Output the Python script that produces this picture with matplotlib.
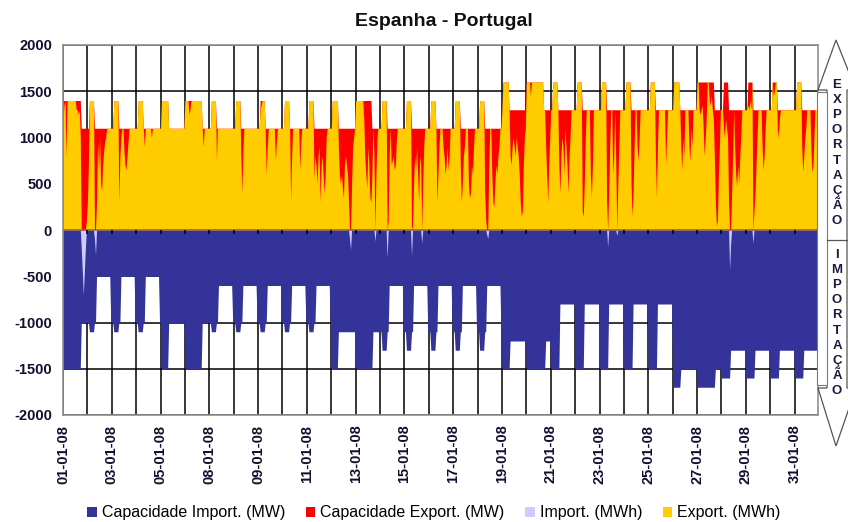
import numpy as np
import matplotlib
matplotlib.use("Agg")
import matplotlib.pyplot as plt
from matplotlib.patches import Polygon, Rectangle, Patch

plt.rcParams['font.family'] = ['Liberation Sans', 'DejaVu Sans']

# ---------------- data (January 2008, hourly, read per day) ----------------
days = list(range(1, 32))
tick_days = [1, 3, 5, 7, 9, 11, 13, 15, 17, 19, 21, 23, 25, 27, 29, 31]
tick_labels = ["01-01-08", "03-01-08", "05-01-08", "08-01-08", "09-01-08", "11-01-08",
               "13-01-08", "15-01-08", "17-01-08", "19-01-08", "21-01-08", "23-01-08",
               "25-01-08", "27-01-08", "29-01-08", "31-01-08"]

# export capacity (MW): off-peak value and normal value per day
exp_cap_high = [1400, 1400, 1400, 1400, 1400, 1400, 1400, 1400, 1400, 1400, 1400, 1400, 1400, 1400, 1400, 1400,
                1400, 1400, 1600, 1600, 1600, 1600, 1600, 1600, 1600, 1600, 1600, 1600, 1600, 1600, 1600]
exp_cap_low = [1100, 1100, 1100, 1100, 1100, 1100, 1100, 1100, 1100, 1100, 1100, 1100, 1100, 1100, 1100, 1100,
               1100, 1100, 1300, 1300, 1300, 1300, 1300, 1300, 1300, 1300, 1300, 1300, 1300, 1300, 1300]
offpeak_start = [0, 2, 2, 2, 1, 0, 2, 2, 2, 2, 2, 1, 0, 2, 2, 2, 2, 2, 1, 0, 2, 2, 2, 2, 2, 1, 0, 2, 2, 2, 2]
offpeak_end = [18, 7, 7, 7, 8, 17, 7, 7, 7, 7, 7, 7, 16, 7, 7, 7, 7, 7, 7, 17, 7, 7, 7, 7, 7, 7, 17, 7, 7, 7, 7]

# import capacity (MW, negative): off-peak, shoulder and peak value per day
imp_cap_offpeak = [-1500, -1100, -1100, -1100, -1500, -1500, -1100, -1100, -1100, -1100, -1100, -1500, -1500,
                   -1300, -1300, -1300, -1300, -1300, -1500, -1500, -1500, -1500, -1500, -1500, -1500, -1700,
                   -1700, -1600, -1600, -1600, -1600]
imp_cap_shoulder = [-1000, -1000, -1000, -1000, -1000, -1000, -1000, -1000, -1000, -1000, -1000, -1500, -1500,
                    -1100, -1100, -1100, -1100, -1100, -1500, -1500, -1500, -1500, -1500, -1500, -1500, -1700,
                    -1700, -1600, -1600, -1600, -1600]
imp_cap_peak = [-1000, -500, -500, -500, -1000, -1000, -600, -600, -600, -600, -600, -1100, -1100,
                -600, -600, -600, -600, -600, -1200, -1200, -800, -800, -800, -800, -800, -1500,
                -1500, -1300, -1300, -1300, -1300]
peak_start = [18, 9, 9, 9, 8, 18, 9, 9, 9, 9, 9, 7, 17, 9, 9, 9, 9, 9, 8, 19, 9, 9, 9, 9, 9, 8, 18, 9, 9, 9, 9]
peak_end = [24, 23, 23, 23, 24, 24, 23, 23, 23, 23, 23, 24, 24, 23, 23, 23, 23, 23, 24, 24, 24, 24, 24, 24,
            24, 24, 24, 24, 24, 24, 24]

# hours where actual export (MWh) was below capacity: (day, hour, MWh)
export_below_cap = [
    (1, 0, 1200), (1, 1, 1350), (1, 3, 800), (1, 13, 1300), (1, 14, 1300), (1, 15, 1250), (1, 16, 1300),
    (1, 17, 1000), (1, 18, 0), (1, 19, 0), (1, 20, 0), (1, 21, 0), (1, 22, 0), (1, 23, 100),
    (2, 0, 300), (2, 1, 700), (2, 7, 0), (2, 8, 0), (2, 9, 300), (2, 10, 950), (2, 11, 650), (2, 12, 1000),
    (2, 13, 500), (2, 14, 420), (2, 15, 700), (2, 16, 850), (2, 17, 950), (2, 18, 1000),
    (3, 7, 300), (3, 8, 800), (3, 9, 1000), (3, 12, 850), (3, 13, 700), (3, 14, 650), (3, 15, 800), (3, 16, 950),
    (4, 8, 900), (4, 15, 1000),
    (6, 4, 1250), (6, 5, 1300), (6, 18, 900),
    (7, 7, 750),
    (8, 7, 800), (8, 8, 400), (8, 9, 850),
    (9, 2, 1300), (9, 3, 1350), (9, 8, 600), (9, 9, 900), (9, 17, 750), (9, 18, 950),
    (10, 8, 320), (10, 9, 800), (10, 17, 650), (10, 18, 950),
    (11, 7, 550), (11, 8, 800), (11, 9, 700), (11, 10, 500), (11, 11, 800), (11, 12, 900), (11, 13, 300),
    (11, 14, 700), (11, 15, 800), (11, 16, 600), (11, 17, 400), (11, 18, 600), (11, 19, 1000),
    (12, 7, 900), (12, 8, 600), (12, 9, 500), (12, 10, 600), (12, 11, 450), (12, 12, 350), (12, 13, 700),
    (12, 14, 800), (12, 15, 700), (12, 16, 600), (12, 17, 300), (12, 18, 0), (12, 19, 0), (12, 20, 500),
    (12, 21, 900), (12, 22, 1000),
    (13, 8, 1200), (13, 9, 800), (13, 10, 600), (13, 11, 450), (13, 12, 900), (13, 13, 700), (13, 14, 350),
    (13, 15, 300), (13, 16, 600), (13, 18, 800), (13, 19, 0), (13, 20, 600), (13, 21, 1000),
    (14, 7, 0), (14, 8, 100), (14, 9, 800), (14, 11, 700), (14, 12, 750), (14, 13, 800), (14, 14, 650),
    (14, 15, 700), (14, 16, 950),
    (15, 7, 0), (15, 8, 50), (15, 9, 500), (15, 10, 800), (15, 11, 650), (15, 12, 900), (15, 13, 600),
    (15, 14, 300), (15, 15, 800), (15, 16, 700), (15, 17, 0), (15, 18, 500), (15, 19, 900),
    (16, 8, 300), (16, 9, 600), (16, 10, 900), (16, 14, 900), (16, 15, 800), (16, 16, 600), (16, 17, 700),
    (16, 18, 900), (16, 19, 650), (16, 20, 800),
    (17, 7, 700), (17, 8, 300), (17, 9, 500), (17, 10, 800), (17, 11, 900), (17, 15, 500), (17, 16, 350),
    (17, 17, 400), (17, 18, 700), (17, 19, 600), (17, 20, 900),
    (18, 7, 400), (18, 8, 100), (18, 9, 0), (18, 10, 0), (18, 11, 700), (18, 14, 600), (18, 15, 300),
    (18, 16, 250), (18, 17, 500), (18, 18, 700), (18, 19, 600), (18, 20, 800), (18, 21, 900),
    (19, 8, 800), (19, 9, 700), (19, 10, 900), (19, 11, 1000), (19, 12, 900), (19, 13, 800), (19, 14, 1000),
    (19, 15, 900), (19, 16, 800), (19, 17, 600), (19, 18, 300), (19, 19, 150), (19, 20, 200), (19, 21, 700),
    (19, 22, 1000), (19, 23, 1100),
    (20, 4, 1450), (20, 19, 900), (20, 20, 600), (20, 21, 300), (20, 22, 700), (20, 23, 1000),
    (21, 8, 700), (21, 9, 400), (21, 10, 800), (21, 11, 1000), (21, 12, 900), (21, 13, 600), (21, 14, 1100),
    (21, 15, 900), (21, 16, 700), (21, 17, 400), (21, 18, 800), (21, 19, 1000),
    (22, 7, 200), (22, 8, 150), (22, 9, 500), (22, 10, 1000), (22, 15, 600), (22, 16, 360), (22, 17, 700),
    (23, 7, 300), (23, 8, 0), (23, 9, 400), (23, 10, 900), (23, 13, 600), (23, 14, 800), (23, 16, 700),
    (23, 17, 0), (23, 18, 500), (23, 19, 900),
    (24, 7, 500), (24, 8, 150), (24, 9, 400), (24, 10, 900), (24, 13, 900), (24, 14, 750), (24, 15, 1000),
    (25, 7, 800), (25, 8, 350), (25, 9, 900), (25, 17, 700), (25, 18, 1000),
    (26, 8, 900), (26, 9, 650), (26, 10, 1000), (26, 11, 800), (26, 16, 900), (26, 17, 750), (26, 18, 1100),
    (26, 19, 900),
    (27, 2, 1300), (27, 3, 1250), (27, 4, 1300), (27, 5, 1350), (27, 6, 1100), (27, 7, 800), (27, 8, 1000),
    (27, 9, 1200), (27, 12, 1400), (27, 13, 1350), (27, 14, 1450), (27, 15, 1300), (27, 16, 1200),
    (27, 17, 800), (27, 18, 300), (27, 19, 50), (27, 20, 100), (27, 21, 600), (27, 22, 900),
    (28, 2, 1100), (28, 3, 1000), (28, 4, 1200), (28, 5, 1100), (28, 6, 1000), (28, 7, 300), (28, 8, 0),
    (28, 9, 0), (28, 10, 400), (28, 11, 800), (28, 13, 900), (28, 14, 600), (28, 15, 470), (28, 16, 700),
    (28, 17, 500), (28, 18, 800), (28, 19, 1000),
    (29, 2, 1350), (29, 3, 1300), (29, 4, 1400), (29, 5, 1300), (29, 7, 0), (29, 8, 200), (29, 9, 400),
    (29, 10, 700), (29, 11, 1000), (29, 16, 900), (29, 17, 650), (29, 18, 800), (29, 19, 1100),
    (30, 3, 1450), (30, 4, 1500), (30, 7, 1100), (30, 8, 1000), (30, 9, 1200),
    (31, 7, 900), (31, 8, 630), (31, 9, 800), (31, 10, 1000), (31, 11, 1100), (31, 16, 900), (31, 17, 630),
    (31, 18, 700), (31, 19, 1000),
]

# hours with actual import (MWh, negative): (day, hour, MWh)
import_flows = [
    (1, 18, -200), (1, 19, -450), (1, 20, -700), (1, 21, -450), (1, 22, -200),
    (2, 7, -100), (2, 8, -270), (12, 18, -100), (12, 19, -210), (13, 19, -120),
    (14, 7, -300), (15, 7, -280), (15, 17, -140), (18, 9, -50), (18, 10, -90),
    (23, 8, -180), (23, 17, -60), (28, 8, -430), (28, 9, -150), (29, 7, -140),
]

# ---------------- build hourly series ----------------
n_hours = len(days) * 24
hours = np.arange(n_hours)
cap_exp = np.zeros(n_hours)
cap_imp = np.zeros(n_hours)
for i in range(len(days)):
    for h in range(24):
        k = i * 24 + h
        if offpeak_start[i] <= h < offpeak_end[i]:
            cap_exp[k] = exp_cap_high[i]
            cap_imp[k] = imp_cap_offpeak[i]
        elif peak_start[i] <= h < peak_end[i]:
            cap_exp[k] = exp_cap_low[i]
            cap_imp[k] = imp_cap_peak[i]
        else:
            cap_exp[k] = exp_cap_low[i]
            cap_imp[k] = imp_cap_shoulder[i]

export = cap_exp.copy()
for d, h, v in export_below_cap:
    export[(d - 1) * 24 + h] = v
imports = np.zeros(n_hours)
for d, h, v in import_flows:
    imports[(d - 1) * 24 + h] = v

# ---------------- figure ----------------
W, H = 848, 522
fig = plt.figure(figsize=(W / 100, H / 100), dpi=100)
ax = fig.add_axes([63 / W, 1 - 415 / H, (818 - 63) / W, (415 - 45) / H])

c_cimp, c_cexp, c_imp, c_exp = "#333399", "#FF0000", "#CCCCFF", "#FFCC00"

# grid (behind data)
for d in range(len(days) + 1):
    ax.axvline(d * 24, color="black", lw=1.1, zorder=0)
for yv in range(-2000, 2001, 500):
    ax.axhline(yv, color="black", lw=1.1, zorder=0)

ax.fill_between(hours, 0, cap_exp, color=c_cexp, lw=0, zorder=2)
ax.fill_between(hours, 0, export, color=c_exp, lw=0, zorder=3)
ax.fill_between(hours, 0, cap_imp, color=c_cimp, lw=0, zorder=2)
ax.fill_between(hours, 0, imports, color=c_imp, lw=0, zorder=3)

ax.axhline(0, color="#8a6a6a", lw=1.2, zorder=4)
ax.vlines([d * 24 for d in range(len(days) + 1)], -45, 0, color="black", lw=1.1, zorder=5)

ax.set_xlim(0, n_hours - 1)
ax.set_ylim(-2000, 2000)
ax.set_yticks(range(-2000, 2001, 500))
ax.set_yticklabels([str(v) for v in range(-2000, 2001, 500)], fontsize=10.5, fontweight="bold", color="#101030")
ax.set_xticks([(d - 1) * 24 for d in tick_days])
ax.set_xticklabels(tick_labels, rotation=90, fontsize=10.5, fontweight="bold", color="#101030")
ax.tick_params(axis="y", length=0, pad=8)
ax.tick_params(axis="x", length=0, pad=7)
for s in ax.spines.values():
    s.set_color("#909090")
    s.set_linewidth(1.2)
    s.set_zorder(6)

fig.text(444 / W, 1 - 22 / H, "Espanha - Portugal", ha="center", va="center",
         fontsize=14, fontweight="bold", color="#101010")

# legend
handles = [Patch(facecolor=c, edgecolor="none") for c in (c_cimp, c_cexp, c_imp, c_exp)]
labels = ["Capacidade Import. (MW)", "Capacidade Export. (MW)", "Import. (MWh)", "Export. (MWh)"]
fig.legend(handles, labels, loc="center", bbox_to_anchor=(434 / W, 1 - 513 / H), ncol=4, frameon=False,
           fontsize=11.5, handlelength=0.6, handleheight=0.6, handletextpad=0.3, columnspacing=1.3,
           borderaxespad=0)

# right-side double arrow
def P(x, y):
    return (x / W, 1 - y / H)

arrow = Polygon([P(836, 40), P(856, 90), P(847, 90), P(847, 388), P(856, 388), P(836, 446),
                 P(818, 388), P(827, 388), P(827, 90), P(818, 90)],
                closed=True, transform=fig.transFigure, facecolor="white", edgecolor="#555555", lw=0.9)
fig.patches.append(arrow)
rect = Rectangle(P(817, 385), 10 / W, 293 / H, transform=fig.transFigure, facecolor="white",
                 edgecolor="#777777", lw=0.8)
fig.patches.append(rect)
fig.add_artist(plt.Line2D([827 / W, 848 / W], [1 - 240 / H, 1 - 240 / H], transform=fig.transFigure,
                          color="#555555", lw=0.9))
fig.text(837 / W, 1 - 153 / H, "\n".join("EXPORTAÇÃO"), ha="center", va="center", fontsize=9.5,
         fontweight="bold", color="#1a1a40", linespacing=1.34)
fig.text(837 / W, 1 - 323 / H, "\n".join("IMPORTAÇÃO"), ha="center", va="center", fontsize=9.5,
         fontweight="bold", color="#1a1a40", linespacing=1.34)

fig.savefig("out.png", dpi=100)
